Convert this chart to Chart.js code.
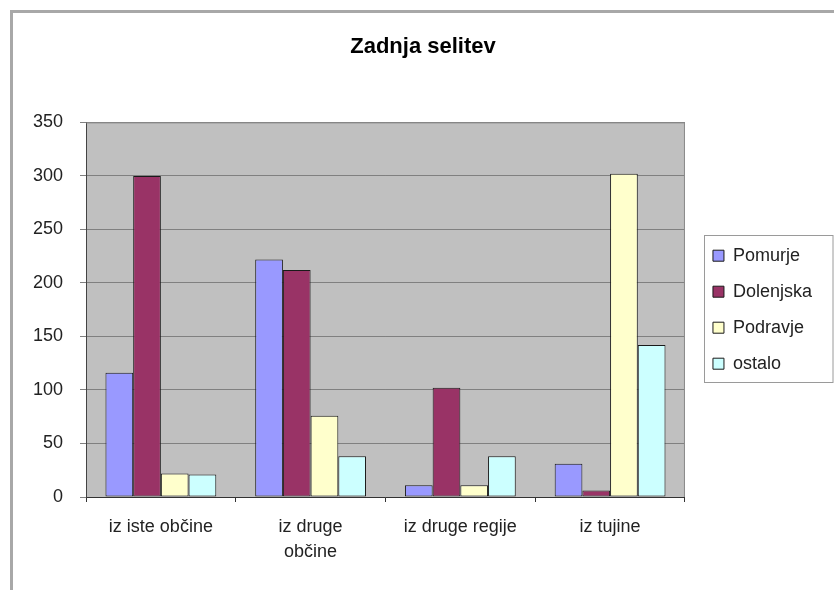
<!DOCTYPE html>
<html>
<head>
<meta charset="utf-8">
<script src="https://cdn.jsdelivr.net/npm/chart.js@4.4.1/dist/chart.umd.min.js"></script>
<style>
  html, body { margin: 0; padding: 0; background: #fff; overflow: hidden; }
  #wrap { position: relative; width: 834px; height: 590px; }
  #frame { position: absolute; left: 10px; top: 10px; width: 900px; height: 700px;
           border-left: 3px solid #a8a8a8; border-top: 3px solid #a8a8a8; }
  canvas { position: absolute; left: 0; top: 0; }
</style>
</head>
<body>
<div id="wrap">
  <div id="frame"></div>
  <canvas id="myChart" width="834" height="590"></canvas>
</div>
<script>
const categories = ['iz iste občine', ['iz druge', 'občine'], 'iz druge regije', 'iz tujine'];
const seriesNames = ['Pomurje', 'Dolenjska', 'Podravje', 'ostalo'];
const pomurje   = [116, 222, 11, 31];
const dolenjska = [300, 212, 102, 6];
const podravje  = [22, 76, 11, 302];
const ostalo    = [21, 38, 38, 142];
const yTicks = [0, 50, 100, 150, 200, 250, 300, 350];

const colors = ['#9999ff', '#993366', '#ffffcc', '#ccffff'];
const values = [pomurje, dolenjska, podravje, ostalo];

const font = "Arial, 'Liberation Sans', sans-serif";

// grey plot background and frame, like the old Excel charts
const plotBg = {
    id: 'plotBg',
    beforeDraw(chart) {
        const a = chart.chartArea;
        const ctx = chart.ctx;
        ctx.save();
        ctx.fillStyle = '#c0c0c0';
        ctx.fillRect(a.left, a.top, a.right - a.left, a.bottom - a.top);
        ctx.restore();
    },
    afterDatasetsDraw(chart) {
        const a = chart.chartArea;
        const ctx = chart.ctx;
        ctx.save();
        ctx.strokeStyle = '#8a8a8a';
        ctx.lineWidth = 1;
        ctx.beginPath();
        ctx.moveTo(a.left, a.top + 0.5);
        ctx.lineTo(a.right - 0.5, a.top + 0.5);
        ctx.lineTo(a.right - 0.5, a.bottom);
        ctx.stroke();
        ctx.restore();
    }
};

// nudge legend and title, and draw a box round the legend
const legendBox = {
    id: 'legendBox',
    afterLayout(chart) {
        const lg = chart.legend;
        lg.left = chart.chartArea.right + 10;
        lg.right = lg.left + lg.width;
        const t = chart.titleBlock;
        t.left += 11;
        t.right += 11;
    },
    afterDraw(chart) {
        const hb = chart.legend.legendHitBoxes;
        if (!hb || !hb.length) return;
        const first = hb[0], last = hb[hb.length - 1];
        const ctx = chart.ctx;
        const x = Math.round(first.left - 9) + 0.5;
        const y = Math.round(first.top - 12) + 0.5;
        const b = Math.round(last.top + last.height + 9) + 0.5;
        ctx.save();
        ctx.strokeStyle = '#9a9a9a';
        ctx.lineWidth = 1;
        ctx.strokeRect(x, y, 833 - x, b - y);
        ctx.restore();
    }
};

const ctx = document.getElementById('myChart');

new Chart(ctx, {
    type: 'bar',
    data: {
        labels: categories,
        datasets: seriesNames.map((name, i) => ({
            label: name,
            data: values[i],
            backgroundColor: colors[i],
            borderColor: '#1a1a1a',
            borderWidth: 1,
            borderSkipped: false,
            categoryPercentage: 0.74,
            barPercentage: 1.0
        }))
    },
    options: {
        responsive: false,
        animation: false,
        events: [],
        layout: { padding: { left: 12, right: 22, top: 0, bottom: 0 } },
        scales: {
            x: {
                grid: { display: true, drawOnChartArea: false, offset: true, color: '#333', tickLength: 5 },
                border: { color: '#333' },
                ticks: { color: '#222', font: { family: font, size: 18, lineHeight: 1.4 }, padding: 12, maxRotation: 0 },
                afterFit(scale) { scale.height = 93; }
            },
            y: {
                min: 0,
                max: 350,
                afterBuildTicks(scale) { scale.ticks = yTicks.map(v => ({ value: v })); },
                grid: { color: '#808080', tickLength: 6 },
                border: { color: '#444' },
                ticks: { color: '#222', font: { family: font, size: 18 }, padding: 17 },
                afterFit(scale) { scale.width = 74; }
            }
        },
        plugins: {
            title: {
                display: true,
                text: 'Zadnja selitev',
                color: '#000',
                font: { family: font, size: 22, weight: 'bold' },
                padding: { top: 34, bottom: 62 }
            },
            legend: {
                position: 'right',
                fullSize: false,
                labels: {
                    color: '#222',
                    font: { family: font, size: 18 },
                    boxWidth: 11,
                    boxHeight: 11,
                    padding: 18
                }
            },
            tooltip: { enabled: false }
        }
    },
    plugins: [plotBg, legendBox]
});
</script>
</body>
</html>
